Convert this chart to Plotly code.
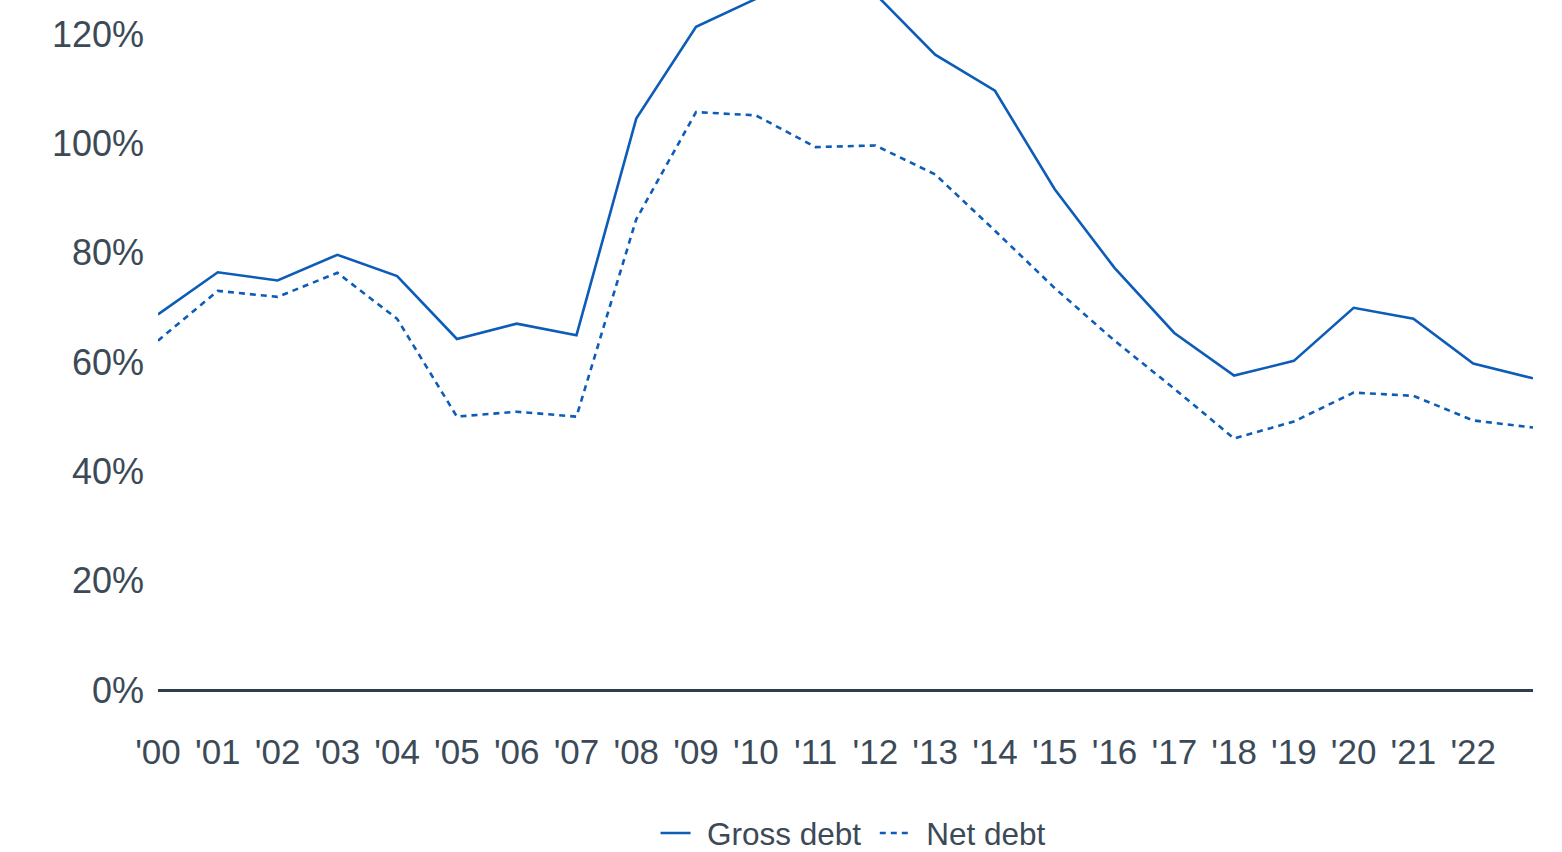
import plotly.graph_objects as go

years = list(range(2000, 2024))
gross_debt = [68.7, 76.4, 74.9, 79.6, 75.7, 64.2, 67.0, 64.9, 104.5, 121.3,
              126.4, 130.5, 127.3, 116.2, 109.6, 91.6, 77.2, 65.3, 57.5, 60.2,
              69.9, 67.9, 59.7, 57.0]
net_debt = [63.9, 73.0, 71.9, 76.3, 67.9, 50.0, 50.9, 50.0, 86.1, 105.7,
            105.1, 99.3, 99.6, 94.3, 84.0, 73.5, 63.9, 55.1, 46.0, 49.1,
            54.4, 53.8, 49.3, 48.0]
tick_years = list(range(2000, 2023))
tick_labels = ["'" + str(y)[2:] for y in tick_years]
y_ticks = [0, 20, 40, 60, 80, 100, 120]
y_tick_labels = [f"{v}%" for v in y_ticks]

LINE = "#0d5cb8"
TEXT = "#3c4a57"
FONT = "Liberation Sans, Arial, sans-serif"

fig = go.Figure()
fig.add_trace(go.Scatter(x=years, y=gross_debt, mode="lines",
                         name="\u00a0\u200aGross debt\u00a0",
                         line=dict(color=LINE, width=2.6)))
fig.add_trace(go.Scatter(x=years, y=net_debt, mode="lines",
                         name="\u00a0\u200aNet debt",
                         line=dict(color=LINE, width=2.6, dash="6px,5px")))

fig.update_layout(
    width=1562, height=852,
    margin=dict(l=158, r=29, t=0, b=161.5, autoexpand=False),
    paper_bgcolor="white", plot_bgcolor="white",
    font=dict(family=FONT, color=TEXT),
    showlegend=True,
    legend=dict(orientation="h", x=0.5055, xanchor="center",
                yref="container", y=0.0223, yanchor="middle",
                font=dict(size=31.5, color=TEXT), itemwidth=30, tracegroupgap=0),
    xaxis=dict(range=[2000, 2023], tickvals=tick_years, ticktext=tick_labels,
               showgrid=False, zeroline=False, showline=False, ticks="",
               automargin=False,
               tickfont=dict(size=35, color=TEXT), ticklabelstandoff=38),
    yaxis=dict(range=[0, 126.2], tickvals=y_ticks, ticktext=y_tick_labels,
               showgrid=False, zeroline=True, zerolinecolor="#2e3e4d", zerolinewidth=2.5,
               showline=False, ticks="", automargin=False,
               tickfont=dict(size=36, color=TEXT), ticklabelstandoff=13),
)

fig.write_html("out.html", config={"displayModeBar": False},
               post_script="document.body.style.margin='0';")
